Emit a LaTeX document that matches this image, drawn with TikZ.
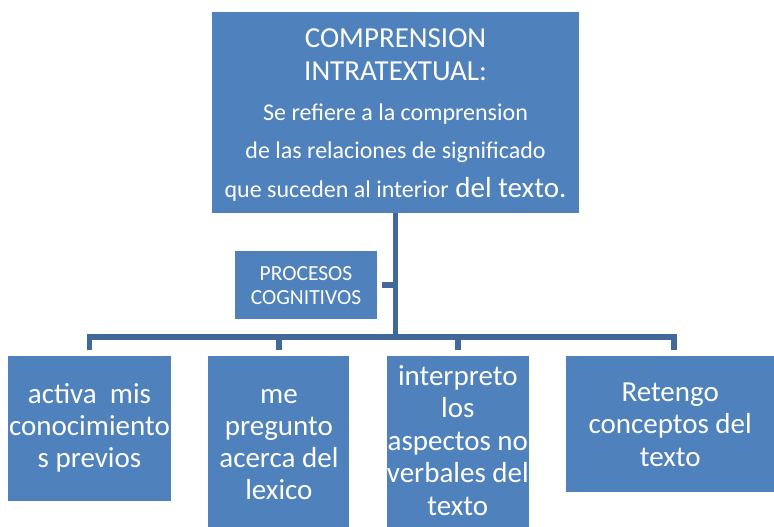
\documentclass[tikz,border=0pt]{standalone}
\usepackage{fontspec}
\setmainfont{Carlito}
\usetikzlibrary{positioning}
\definecolor{boxblue}{RGB}{79,129,189}
\definecolor{linkblue}{RGB}{65,104,153}
\setlength{\tabcolsep}{0pt}

\tikzset{
    box/.style={rectangle, fill=boxblue, text=white, inner sep=0pt},
    link/.style={draw=linkblue, line width=5.5pt},
}

\begin{document}
\begin{tikzpicture}[x=1pt, y=-1pt]
\useasboundingbox (0,0) rectangle (774,527);

\node[box, minimum width=367pt, minimum height=201pt] (intra) at (395.5,112.5) {
    \fontsize{29}{33}\selectfont
    \begin{tabular}{c}
    COMPRENSION\\
    INTRATEXTUAL:\\[7pt]
    {\fontsize{24}{28}\selectfont Se refiere a la comprension}\\[5pt]
    {\fontsize{24}{28}\selectfont de las relaciones de significado}\\[6pt]
    {\fontsize{24}{28}\selectfont que suceden al interior} del texto.\\[-6pt]
    \end{tabular}
    };

\node[box, minimum width=142pt, minimum height=68pt] (procesos) at (306,285) {
    \fontsize{21.5}{24.5}\selectfont
    \begin{tabular}{c}
    PROCESOS\\
    COGNITIVOS\\[-5pt]
    \end{tabular}
    };

    % -------

\node[box, minimum width=163pt, minimum height=145pt, anchor=north] (activa) at (89.5,356) {
    \fontsize{29}{32}\selectfont
    \begin{tabular}{c}
    activa~ mis\\
    conocimiento\\
    s previos
    \end{tabular}
    };
\node[box, minimum width=141pt, minimum height=178pt, anchor=north west] (pregunto) at ([xshift=37pt]activa.north east) {
    \fontsize{29}{32}\selectfont
    \begin{tabular}{c}
    me\\
    pregunto\\
    acerca del\\
    lexico
    \end{tabular}
    };
\node[box, minimum width=142pt, minimum height=171pt, anchor=north west] (interpreto) at ([xshift=37pt]pregunto.north east) {
    \fontsize{29}{32.5}\selectfont
    \begin{tabular}{c}
    interpreto\\
    los\\
    aspectos no\\
    verbales del\\
    texto\\[-4pt]
    \end{tabular}
    };
\node[box, minimum width=208pt, minimum height=136pt, anchor=north west] (retengo) at ([xshift=37pt]interpreto.north east) {
    \fontsize{29}{32.5}\selectfont
    \begin{tabular}{c}
    Retengo\\
    conceptos del\\
    texto\\[-6pt]
    \end{tabular}
    };

    % -------

\draw[link] (intra.south) -- ++(0,124) -| ([yshift=6pt]activa.north);
\draw[link] (intra.south) -- ++(0,124) -| ([yshift=6pt]pregunto.north);
\draw[link] (intra.south) -- ++(0,124) -| ([yshift=6pt]interpreto.north);
\draw[link] (intra.south) -- ++(0,124) -| ([xshift=4pt,yshift=6pt]retengo.north);
\draw[link] ([xshift=5pt]procesos.east) -- (procesos.east -| intra.south);

\end{tikzpicture}
\end{document}
